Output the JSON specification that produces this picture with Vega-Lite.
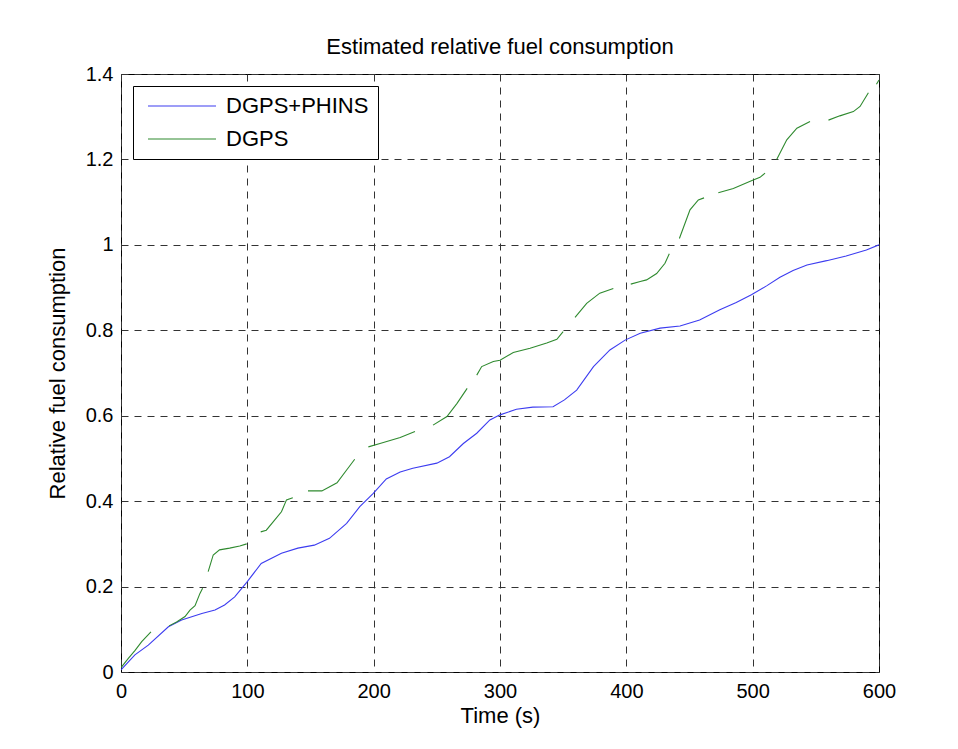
{
  "$schema": "https://vega.github.io/schema/vega-lite/v6.json",
  "width": 758,
  "height": 598,
  "autosize": "none",
  "padding": {"left": 121, "top": 74, "right": 79, "bottom": 77},
  "background": "white",
  "config": {
    "font": "Liberation Sans",
    "view": {"stroke": "black", "strokeWidth": 1}
  },
  "title": {"text": "Estimated relative fuel consumption", "fontSize": 22, "fontWeight": "normal", "color": "black", "offset": 5, "font": "Liberation Sans"},
  "data": {"values": [
    {"s":"DGPS+PHINS","seg":0,"t":0,"v":0.005},
    {"s":"DGPS+PHINS","seg":0,"t":11,"v":0.04},
    {"s":"DGPS+PHINS","seg":0,"t":21.6,"v":0.063},
    {"s":"DGPS+PHINS","seg":0,"t":37.5,"v":0.106},
    {"s":"DGPS+PHINS","seg":0,"t":48,"v":0.122},
    {"s":"DGPS+PHINS","seg":0,"t":64,"v":0.137},
    {"s":"DGPS+PHINS","seg":0,"t":74.4,"v":0.145},
    {"s":"DGPS+PHINS","seg":0,"t":82,"v":0.157},
    {"s":"DGPS+PHINS","seg":0,"t":90,"v":0.176},
    {"s":"DGPS+PHINS","seg":0,"t":99.5,"v":0.21},
    {"s":"DGPS+PHINS","seg":0,"t":111,"v":0.254},
    {"s":"DGPS+PHINS","seg":0,"t":127,"v":0.278},
    {"s":"DGPS+PHINS","seg":0,"t":140,"v":0.29},
    {"s":"DGPS+PHINS","seg":0,"t":153,"v":0.297},
    {"s":"DGPS+PHINS","seg":0,"t":165,"v":0.313},
    {"s":"DGPS+PHINS","seg":0,"t":178.6,"v":0.348},
    {"s":"DGPS+PHINS","seg":0,"t":189,"v":0.387},
    {"s":"DGPS+PHINS","seg":0,"t":199.7,"v":0.418},
    {"s":"DGPS+PHINS","seg":0,"t":210,"v":0.452},
    {"s":"DGPS+PHINS","seg":0,"t":221,"v":0.468},
    {"s":"DGPS+PHINS","seg":0,"t":231,"v":0.477},
    {"s":"DGPS+PHINS","seg":0,"t":250,"v":0.489},
    {"s":"DGPS+PHINS","seg":0,"t":260,"v":0.504},
    {"s":"DGPS+PHINS","seg":0,"t":271,"v":0.535},
    {"s":"DGPS+PHINS","seg":0,"t":281.6,"v":0.559},
    {"s":"DGPS+PHINS","seg":0,"t":292,"v":0.59},
    {"s":"DGPS+PHINS","seg":0,"t":300,"v":0.602},
    {"s":"DGPS+PHINS","seg":0,"t":313,"v":0.615},
    {"s":"DGPS+PHINS","seg":0,"t":326,"v":0.62},
    {"s":"DGPS+PHINS","seg":0,"t":342,"v":0.621},
    {"s":"DGPS+PHINS","seg":0,"t":351,"v":0.637},
    {"s":"DGPS+PHINS","seg":0,"t":360.7,"v":0.66},
    {"s":"DGPS+PHINS","seg":0,"t":374,"v":0.715},
    {"s":"DGPS+PHINS","seg":0,"t":387,"v":0.754},
    {"s":"DGPS+PHINS","seg":0,"t":399,"v":0.777},
    {"s":"DGPS+PHINS","seg":0,"t":411,"v":0.793},
    {"s":"DGPS+PHINS","seg":0,"t":426.7,"v":0.805},
    {"s":"DGPS+PHINS","seg":0,"t":442.5,"v":0.81},
    {"s":"DGPS+PHINS","seg":0,"t":458,"v":0.824},
    {"s":"DGPS+PHINS","seg":0,"t":474,"v":0.848},
    {"s":"DGPS+PHINS","seg":0,"t":487,"v":0.865},
    {"s":"DGPS+PHINS","seg":0,"t":499,"v":0.883},
    {"s":"DGPS+PHINS","seg":0,"t":511,"v":0.904},
    {"s":"DGPS+PHINS","seg":0,"t":521.6,"v":0.924},
    {"s":"DGPS+PHINS","seg":0,"t":532,"v":0.94},
    {"s":"DGPS+PHINS","seg":0,"t":543,"v":0.953},
    {"s":"DGPS+PHINS","seg":0,"t":558.6,"v":0.963},
    {"s":"DGPS+PHINS","seg":0,"t":574,"v":0.974},
    {"s":"DGPS+PHINS","seg":0,"t":590,"v":0.988},
    {"s":"DGPS+PHINS","seg":0,"t":600,"v":1.0},

    {"s":"DGPS","seg":1,"t":0,"v":0.01},
    {"s":"DGPS","seg":1,"t":5.8,"v":0.032},
    {"s":"DGPS","seg":1,"t":11,"v":0.05},
    {"s":"DGPS","seg":1,"t":16.4,"v":0.071},
    {"s":"DGPS","seg":1,"t":23.7,"v":0.094},
    {"s":"DGPS","seg":2,"t":38,"v":0.108},
    {"s":"DGPS","seg":2,"t":44,"v":0.117},
    {"s":"DGPS","seg":2,"t":50.7,"v":0.13},
    {"s":"DGPS","seg":2,"t":54.6,"v":0.145},
    {"s":"DGPS","seg":2,"t":58.6,"v":0.155},
    {"s":"DGPS","seg":2,"t":62.5,"v":0.184},
    {"s":"DGPS","seg":2,"t":64.6,"v":0.196},
    {"s":"DGPS","seg":3,"t":69,"v":0.235},
    {"s":"DGPS","seg":3,"t":73,"v":0.274},
    {"s":"DGPS","seg":3,"t":78,"v":0.286},
    {"s":"DGPS","seg":3,"t":86,"v":0.29},
    {"s":"DGPS","seg":3,"t":94,"v":0.295},
    {"s":"DGPS","seg":3,"t":99.5,"v":0.3},
    {"s":"DGPS","seg":4,"t":110.6,"v":0.328},
    {"s":"DGPS","seg":4,"t":115,"v":0.332},
    {"s":"DGPS","seg":4,"t":120.6,"v":0.352},
    {"s":"DGPS","seg":4,"t":127,"v":0.375},
    {"s":"DGPS","seg":4,"t":131,"v":0.403},
    {"s":"DGPS","seg":4,"t":136,"v":0.408},
    {"s":"DGPS","seg":5,"t":148,"v":0.424},
    {"s":"DGPS","seg":5,"t":159,"v":0.424},
    {"s":"DGPS","seg":5,"t":171,"v":0.443},
    {"s":"DGPS","seg":5,"t":178.6,"v":0.473},
    {"s":"DGPS","seg":5,"t":185,"v":0.498},
    {"s":"DGPS","seg":6,"t":195.8,"v":0.527},
    {"s":"DGPS","seg":6,"t":205,"v":0.535},
    {"s":"DGPS","seg":6,"t":221,"v":0.549},
    {"s":"DGPS","seg":6,"t":232.7,"v":0.563},
    {"s":"DGPS","seg":7,"t":247,"v":0.578},
    {"s":"DGPS","seg":7,"t":258,"v":0.598},
    {"s":"DGPS","seg":7,"t":266,"v":0.629},
    {"s":"DGPS","seg":7,"t":274,"v":0.664},
    {"s":"DGPS","seg":8,"t":281.6,"v":0.695},
    {"s":"DGPS","seg":8,"t":285.5,"v":0.715},
    {"s":"DGPS","seg":8,"t":294.7,"v":0.727},
    {"s":"DGPS","seg":8,"t":300,"v":0.73},
    {"s":"DGPS","seg":8,"t":310.5,"v":0.748},
    {"s":"DGPS","seg":8,"t":323.8,"v":0.758},
    {"s":"DGPS","seg":8,"t":337,"v":0.77},
    {"s":"DGPS","seg":8,"t":345,"v":0.779},
    {"s":"DGPS","seg":8,"t":350,"v":0.797},
    {"s":"DGPS","seg":9,"t":359.4,"v":0.83},
    {"s":"DGPS","seg":9,"t":368.6,"v":0.863},
    {"s":"DGPS","seg":9,"t":379,"v":0.887},
    {"s":"DGPS","seg":9,"t":389.7,"v":0.898},
    {"s":"DGPS","seg":10,"t":403.5,"v":0.908},
    {"s":"DGPS","seg":10,"t":411,"v":0.914},
    {"s":"DGPS","seg":10,"t":416,"v":0.918},
    {"s":"DGPS","seg":10,"t":424,"v":0.933},
    {"s":"DGPS","seg":10,"t":430.6,"v":0.957},
    {"s":"DGPS","seg":10,"t":434,"v":0.979},
    {"s":"DGPS","seg":11,"t":442,"v":1.015},
    {"s":"DGPS","seg":11,"t":450.4,"v":1.082},
    {"s":"DGPS","seg":11,"t":457,"v":1.105},
    {"s":"DGPS","seg":11,"t":461.5,"v":1.11},
    {"s":"DGPS","seg":12,"t":472.8,"v":1.122},
    {"s":"DGPS","seg":12,"t":484.7,"v":1.132},
    {"s":"DGPS","seg":12,"t":499,"v":1.15},
    {"s":"DGPS","seg":12,"t":505.8,"v":1.158},
    {"s":"DGPS","seg":12,"t":509.8,"v":1.168},
    {"s":"DGPS","seg":13,"t":519,"v":1.2},
    {"s":"DGPS","seg":13,"t":527,"v":1.246},
    {"s":"DGPS","seg":13,"t":535,"v":1.273},
    {"s":"DGPS","seg":13,"t":545.4,"v":1.289},
    {"s":"DGPS","seg":14,"t":560,"v":1.292},
    {"s":"DGPS","seg":14,"t":569,"v":1.302},
    {"s":"DGPS","seg":14,"t":579.7,"v":1.312},
    {"s":"DGPS","seg":14,"t":585,"v":1.324},
    {"s":"DGPS","seg":14,"t":591.6,"v":1.356},
    {"s":"DGPS","seg":15,"t":598,"v":1.376},
    {"s":"DGPS","seg":15,"t":600,"v":1.386}
  ]},
  "mark": {"type": "line", "strokeWidth": 1.1, "clip": true},
  "encoding": {
    "x": {
      "field": "t", "type": "quantitative",
      "scale": {"domain": [0, 600], "nice": false, "zero": false},
      "axis": {
        "title": "Time (s)", "values": [0,100,200,300,400,500,600], "format": "d",
        "grid": true, "gridDash": [7, 6], "gridColor": "#333333", "gridOpacity": 1, "gridWidth": 1,
        "domain": false, "ticks": false, "labelPadding": 9, "labelFlush": false, "labelOverlap": false,
        "labelFontSize": 20, "labelColor": "black", "labelFont": "Liberation Sans",
        "titleFontSize": 22, "titleFontWeight": "normal", "titleColor": "black", "titlePadding": 4, "titleFont": "Liberation Sans"
      }
    },
    "y": {
      "field": "v", "type": "quantitative",
      "scale": {"domain": [0, 1.4], "nice": false},
      "axis": {
        "title": "Relative fuel consumption", "values": [0,0.2,0.4,0.6,0.8,1,1.2,1.4], "format": "~g",
        "grid": true, "gridDash": [7, 6], "gridColor": "#333333", "gridOpacity": 1, "gridWidth": 1,
        "domain": false, "ticks": false, "labelPadding": 8, "labelFlush": false, "labelOverlap": false,
        "labelFontSize": 20, "labelColor": "black", "labelFont": "Liberation Sans",
        "titleFontSize": 22, "titleFontWeight": "normal", "titleColor": "black", "titlePadding": 16, "titleFont": "Liberation Sans"
      }
    },
    "color": {
      "field": "s", "type": "nominal",
      "scale": {"domain": ["DGPS+PHINS", "DGPS"], "range": ["#3c3cf0", "#2f8a2f"]},
      "legend": {
        "title": null, "orient": "top-left", "offset": 12,
        "strokeColor": "black", "fillColor": "white", "padding": 9,
        "symbolType": "M-0.5,0H6.3", "symbolSize": 400, "symbolStrokeWidth": 1.2,
        "labelFontSize": 22, "labelColor": "black", "labelFont": "Liberation Sans", "labelOffset": 62,
        "rowPadding": 11
      }
    },
    "detail": {"field": "seg", "type": "nominal"}
  }
}
